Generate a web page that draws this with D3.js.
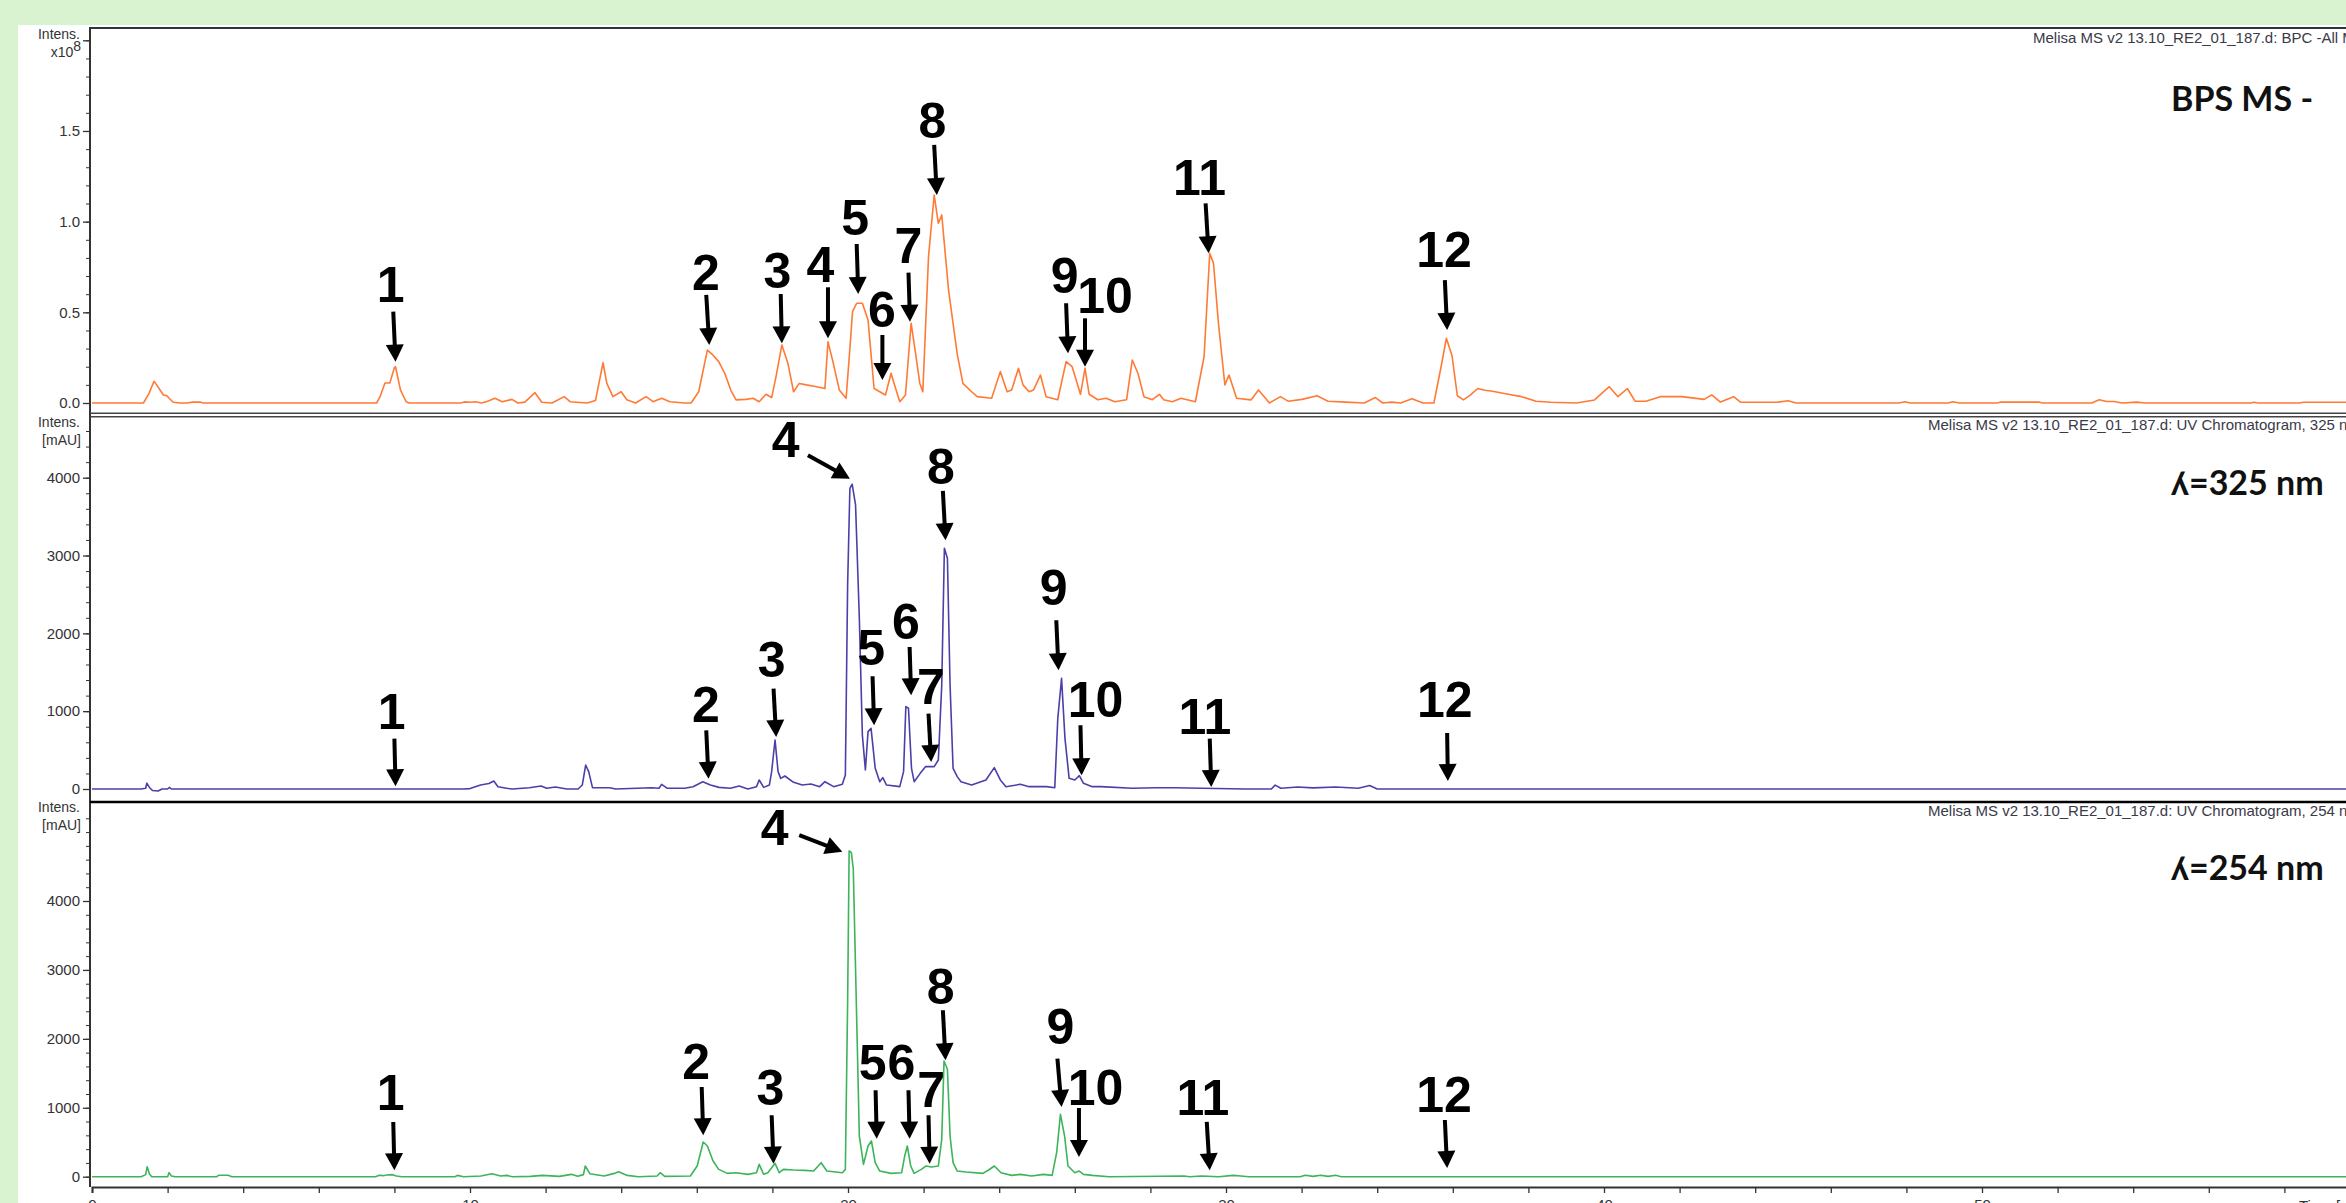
<!DOCTYPE html>
<html>
<head>
<meta charset="utf-8">
<script src="https://cdn.jsdelivr.net/npm/d3@7"></script>
<style>
  html, body { margin: 0; padding: 0; background: #d9f2d0; overflow: hidden; }
  svg { display: block; }
</style>
</head>
<body>
<svg width="2346" height="1203"></svg>
<script>
// retention time [min], intensity (BPC in 1e8 counts, UV in mAU)
const bpcTrace = [[0,0],[1.36,0],[1.51,0.053],[1.64,0.12],[1.71,0.1],[1.8,0.072],[1.89,0.044],[1.98,0.04],[2.06,0.022],[2.15,0.004],[2.33,0],[2.5,0],[2.68,0.005],[2.86,0.005],[2.94,0],
  [7.53,0],[7.62,0.035],[7.75,0.11],[7.88,0.11],[8.0,0.195],[8.03,0.2],[8.16,0.072],[8.31,0.007],[8.39,0],
  [9.75,0],[9.85,0.006],[10.0,0.004],[10.15,0.007],[10.3,0],[10.45,0.008],[10.66,0.026],[10.85,0.007],[11.11,0.02],[11.27,0],[11.45,0.005],[11.72,0.057],[11.9,0.004],[12.17,0],[12.49,0.035],[12.65,0.007],[13.1,0],[13.32,0.014],[13.52,0.222],[13.62,0.108],[13.78,0.035],[14.0,0.062],[14.15,0.018],[14.38,0],[14.66,0.035],[14.84,0.007],[15.07,0.026],[15.29,0.007],[15.67,0],[15.85,0],[16.05,0.062],[16.28,0.292],[16.4,0.27],[16.58,0.228],[16.74,0.164],[16.9,0.07],[17.04,0.017],[17.3,0.02],[17.49,0.026],[17.65,0.007],[17.83,0.048],[17.98,0.03],[18.1,0.15],[18.25,0.32],[18.41,0.219],[18.56,0.062],[18.71,0.108],[18.9,0.1],[19.17,0.09],[19.39,0.08],[19.47,0.338],[19.59,0.238],[19.77,0.072],[19.95,0.026],[20.05,0.3],[20.12,0.504],[20.23,0.55],[20.38,0.55],[20.53,0.458],[20.69,0.08],[20.84,0.062],[20.99,0.044],[21.14,0.164],[21.22,0.108],[21.37,0.007],[21.52,0.044],[21.67,0.44],[21.79,0.27],[21.9,0.108],[21.98,0.062],[22.13,0.807],[22.28,1.147],[22.39,0.991],[22.48,1.037],[22.66,0.623],[22.89,0.27],[23.04,0.108],[23.27,0.062],[23.42,0.035],[23.8,0.026],[24.03,0.173],[24.21,0.062],[24.33,0.072],[24.51,0.191],[24.63,0.1],[24.79,0.062],[24.91,0.072],[25.09,0.154],[25.24,0.035],[25.55,0.018],[25.77,0.228],[25.93,0.2],[26.15,0.048],[26.27,0.191],[26.38,0.048],[26.61,0.018],[26.83,0.026],[27.06,0.007],[27.37,0.018],[27.52,0.237],[27.67,0.164],[27.83,0.035],[28.05,0.018],[28.24,0.048],[28.35,0.018],[28.58,0.007],[28.81,0.026],[29.19,0.007],[29.42,0.255],[29.57,0.826],[29.67,0.77],[29.8,0.44],[29.97,0.1],[30.08,0.154],[30.28,0.026],[30.66,0.017],[30.86,0.072],[31.15,0],[31.44,0.035],[31.64,0.01],[32.01,0.02],[32.41,0.04],[32.7,0.01],[33.17,0.005],[33.66,0],[33.95,0.03],[34.15,0],[34.38,0.005],[34.62,0],[34.92,0.024],[35.21,0],[35.5,0],[35.69,0.2],[35.83,0.357],[35.98,0.26],[36.12,0.04],[36.28,0.017],[36.47,0.045],[36.66,0.08],[36.85,0.07],[37.05,0.065],[37.43,0.05],[37.82,0.035],[38.2,0.01],[38.6,0.004],[39.27,0],[39.75,0.017],[40.14,0.09],[40.37,0.035],[40.62,0.08],[40.82,0.01],[41.11,0.01],[41.49,0.035],[42.06,0.035],[42.65,0.02],[42.85,0.045],[43.08,0.005],[43.43,0.035],[43.62,0.004],[44.58,0.004],[44.87,0.012],[45.08,0],[47.8,0],[47.96,0.007],[48.1,0],[49.1,0],[49.23,0.007],[49.4,0],[50.4,0],[50.5,0.005],[51.5,0.005],[51.6,0],[52.9,0],[53.1,0.018],[53.3,0.008],[53.5,0.008],[53.7,0],[54.1,0.005],[54.3,0],[57.1,0],[57.2,0.004],[57.3,0],[58.4,0],[58.5,0.004],[60,0.004]];

const uv325Trace = [[0,0],[1.3,0],[1.42,10],[1.45,75],[1.52,20],[1.6,-20],[1.75,-25],[1.85,0],[2.0,0],[2.05,20],[2.1,0],[9.83,0],[10.0,5],[10.28,51],[10.5,70],[10.63,103],[10.74,30],[10.97,9],[11.12,0],[11.57,17],[11.88,39],[12.03,9],[12.26,26],[12.56,0],[12.86,0],[12.97,51],[13.06,308],[13.14,223],[13.24,17],[13.7,17],[13.85,0],[14.8,17],[15.0,10],[15.07,60],[15.22,9],[15.68,9],[15.9,30],[16.16,94],[16.36,51],[16.59,21],[16.89,9],[17.12,39],[17.35,0],[17.58,30],[17.65,116],[17.77,21],[17.92,51],[17.98,223],[18.07,630],[18.15,223],[18.22,137],[18.33,167],[18.56,86],[18.79,51],[19.02,64],[19.25,30],[19.39,94],[19.62,30],[19.85,60],[19.93,180],[19.99,2622],[20.05,3864],[20.11,3916],[20.2,3650],[20.3,2193],[20.38,694],[20.46,244],[20.53,737],[20.61,780],[20.72,266],[20.84,94],[20.92,146],[21.02,51],[21.37,30],[21.47,223],[21.53,1058],[21.6,1037],[21.68,266],[21.75,94],[21.91,201],[22.05,287],[22.28,287],[22.39,373],[22.48,1337],[22.55,3093],[22.63,2965],[22.7,1337],[22.78,266],[22.89,159],[22.99,94],[23.27,51],[23.65,116],[23.87,274],[24.03,116],[24.18,30],[24.56,60],[24.79,30],[25.25,30],[25.47,17],[25.55,908],[25.65,1422],[25.74,651],[25.85,137],[26.0,116],[26.12,171],[26.23,73],[26.46,30],[26.69,30],[27.52,9],[28.13,17],[28.66,17],[29.35,9],[30.5,0],[31.2,0],[31.3,50],[31.45,10],[31.9,25],[32.3,15],[32.9,25],[33.5,10],[33.8,45],[34.0,0],[60,0]];

const uv254Trace = [[0,0],[1.3,0],[1.42,30],[1.46,145],[1.52,40],[1.58,0],[2.0,0],[2.04,60],[2.1,10],[2.2,0],[3.3,0],[3.35,20],[3.6,20],[3.7,0],[7.5,0],[7.6,20],[7.7,15],[7.8,25],[7.95,30],[8.05,10],[8.2,0],[9.6,0],[9.67,19],[9.83,0],[10.29,10],[10.58,44],[10.81,10],[10.97,19],[11.12,0],[11.6,5],[11.92,19],[12.37,5],[12.68,34],[12.85,5],[13.0,30],[13.05,155],[13.17,44],[13.55,10],[13.82,48],[13.93,73],[14.16,19],[14.46,0],[14.95,10],[15.03,58],[15.15,5],[15.83,10],[16.01,155],[16.17,503],[16.28,445],[16.43,227],[16.58,106],[16.81,48],[17.04,58],[17.35,34],[17.58,58],[17.65,179],[17.77,34],[17.88,58],[18.07,194],[18.18,58],[18.29,106],[18.56,97],[18.86,92],[19.09,82],[19.29,203],[19.44,82],[19.85,58],[19.93,106],[19.99,2525],[20.03,4727],[20.09,4702],[20.14,4461],[20.23,2284],[20.3,590],[20.41,179],[20.53,445],[20.62,518],[20.72,203],[20.84,82],[21.14,48],[21.42,58],[21.5,300],[21.57,445],[21.66,155],[21.75,48],[21.94,106],[22.06,155],[22.21,140],[22.39,155],[22.48,542],[22.54,1679],[22.63,1558],[22.7,590],[22.78,203],[22.89,82],[23.12,68],[23.57,48],[23.72,97],[23.87,155],[24.05,58],[24.33,19],[24.56,34],[24.86,10],[25.17,34],[25.4,19],[25.52,348],[25.62,905],[25.73,590],[25.82,155],[26.0,58],[26.12,82],[26.23,34],[26.46,19],[26.91,0],[28.89,10],[29.04,0],[29.35,10],[29.81,0],[30.19,19],[30.39,10],[30.6,0],[31.96,0],[32.1,20],[32.3,5],[32.5,22],[32.7,5],[32.9,20],[33.05,0],[60,0]];

// peak labels: [label, labelT, labelV, tailT, tailV, tipT, tipV]
const bpcPeaks = [
  ['1', 7.90, 0.559, 7.97, 0.504, 8.03, 0.228],
  ['2', 16.24, 0.623, 16.25, 0.596, 16.33, 0.32],
  ['3', 18.13, 0.633, 18.22, 0.601, 18.25, 0.329],
  ['4', 19.27, 0.669, 19.47, 0.638, 19.47, 0.357],
  ['5', 20.19, 0.927, 20.23, 0.877, 20.27, 0.601],
  ['6', 20.9, 0.418, 20.91, 0.375, 20.91, 0.127],
  ['7', 21.6, 0.771, 21.6, 0.719, 21.64, 0.448],
  ['8', 22.23, 1.46, 22.28, 1.423, 22.35, 1.147],
  ['9', 25.73, 0.605, 25.77, 0.55, 25.82, 0.274],
  ['10', 26.8, 0.495, 26.27, 0.467, 26.27, 0.2],
  ['11', 29.3, 1.147, 29.46, 1.101, 29.54, 0.826],
  ['12', 35.77, 0.75, 35.79, 0.678, 35.85, 0.403]
];
const uv325Peaks = [
  ['1', 7.93, 775, 8.0, 647, 8.03, 35],
  ['2', 16.24, 861, 16.25, 754, 16.31, 132],
  ['3', 17.98, 1440, 18.03, 1289, 18.1, 668],
  ['4', 18.35, 4267, 18.94, 4289, 20.05, 3988],
  ['5', 20.61, 1590, 20.65, 1449, 20.69, 819],
  ['6', 21.53, 1932, 21.63, 1825, 21.67, 1204],
  ['7', 22.19, 1096, 22.13, 968, 22.2, 347],
  ['8', 22.46, 3924, 22.51, 3830, 22.58, 3197],
  ['9', 25.44, 2361, 25.51, 2168, 25.57, 1526],
  ['10', 26.55, 925, 26.15, 819, 26.18, 176],
  ['11', 29.44, 711, 29.57, 647, 29.61, 26],
  ['12', 35.79, 925, 35.85, 720, 35.87, 103]
];
const uv254Peaks = [
  ['1', 7.90, 964, 7.97, 794, 8.0, 93],
  ['2', 15.98, 1422, 16.13, 1302, 16.17, 601],
  ['3', 17.95, 1036, 17.98, 891, 18.03, 189],
  ['4', 18.06, 4810, 18.71, 4955, 19.85, 4713],
  ['5', 20.65, 1399, 20.73, 1254, 20.76, 552],
  ['6', 21.41, 1399, 21.6, 1254, 21.63, 552],
  ['7', 22.2, 1012, 22.13, 891, 22.16, 189],
  ['8', 22.45, 2511, 22.51, 2415, 22.58, 1689],
  ['9', 25.62, 1930, 25.54, 1713, 25.65, 1012],
  ['10', 26.55, 1036, 26.11, 997, 26.11, 286],
  ['11', 29.39, 891, 29.49, 794, 29.57, 93],
  ['12', 35.77, 939, 35.79, 823, 35.85, 126]
];

const timeTicks = [0, 10, 20, 30, 40, 50];
const bpcTicks = [0, 0.5, 1.0, 1.5];
const uvTicks = [0, 1000, 2000, 3000, 4000];
const headers = [
  'Melisa MS v2 13.10_RE2_01_187.d: BPC -All MS',
  'Melisa MS v2 13.10_RE2_01_187.d: UV Chromatogram, 325 nm',
  'Melisa MS v2 13.10_RE2_01_187.d: UV Chromatogram, 254 nm'
];
const titles = ['BPS MS -', '\u028E=325 nm', '\u028E=254 nm'];

const W = 2346, H = 1203;
const left = 90, axisY = 1187;
const sans = '"Liberation Sans", Arial, sans-serif';

const svg = d3.select('svg');

// white sheet
svg.append('rect').attr('x', 18).attr('y', 25).attr('width', W).attr('height', H).attr('fill', '#fff');

const x = d3.scaleLinear().domain([0, 60]).range([92, 92 + 37.8 * 60]);

const panels = [
  { trace: bpcTrace, peaks: bpcPeaks, color: '#ff7a35',
    y: d3.scaleLinear().domain([0, 2]).range([403, 40.3]),
    major: bpcTicks.concat([2.0]), minor: d3.range(0, 2.001, 0.1), fmt: d => d === 2 ? '' : d3.format('.1f')(d),
    unit: ['Intens.', 'x10'], unitY: [39, 57], headerX: 2033, headerY: 43, titleY: 111 },
  { trace: uv325Trace, peaks: uv325Peaks, color: '#4a40a8',
    y: d3.scaleLinear().domain([0, 4000]).range([789, 477.7]),
    major: uvTicks, minor: d3.range(0, 4601, 200), fmt: d3.format('d'),
    unit: ['Intens.', '[mAU]'], unitY: [427, 445], headerX: 1928, headerY: 430, titleY: 495 },
  { trace: uv254Trace, peaks: uv254Peaks, color: '#3cb45a',
    y: d3.scaleLinear().domain([0, 4000]).range([1176.7, 901]),
    major: uvTicks, minor: d3.range(0, 5201, 200), fmt: d3.format('d'),
    unit: ['Intens.', '[mAU]'], unitY: [812, 830], headerX: 1928, headerY: 816, titleY: 880 }
];

panels.forEach((p, i) => {
  const g = svg.append('g');

  // y axes: minor then major
  g.append('g')
    .attr('transform', 'translate(' + left + ',0)')
    .call(d3.axisLeft(p.y).tickValues(p.minor).tickSize(4).tickFormat(''))
    .call(a => a.select('.domain').remove())
    .selectAll('line').attr('stroke', '#333');

  const ax = g.append('g')
    .attr('transform', 'translate(' + left + ',0)')
    .call(d3.axisLeft(p.y).tickValues(p.major).tickSize(7).tickPadding(3).tickFormat(p.fmt))
    .call(a => a.select('.domain').remove());
  ax.selectAll('line').attr('stroke', '#333').attr('stroke-width', 1.3);
  ax.selectAll('text')
    .attr('font-family', sans).attr('font-size', 15).attr('fill', '#333');

  // unit label
  g.append('text').attr('x', 80).attr('y', p.unitY[0])
    .attr('text-anchor', 'end').attr('font-family', sans).attr('font-size', 14).attr('fill', '#333')
    .text(p.unit[0]);
  const u = g.append('text').attr('x', 81).attr('y', p.unitY[1])
    .attr('text-anchor', 'end').attr('font-family', sans).attr('font-size', 14).attr('fill', '#333');
  u.append('tspan').text(p.unit[1]);
  if (i === 0) u.append('tspan').attr('dy', -6).text('8');

  // header
  g.append('text').attr('x', p.headerX).attr('y', p.headerY)
    .attr('font-family', sans).attr('font-size', 15).attr('fill', '#3a3a48')
    .text(headers[i]);

  // title
  g.append('text').attr('x', 2171).attr('y', p.titleY)
    .attr('font-family', 'Lato, "Open Sans", sans-serif').attr('font-weight', 'bold')
    .attr('font-size', 34).attr('fill', '#111')
    .text(titles[i]);

  // trace
  const line = d3.line().x(d => x(d[0])).y(d => p.y(d[1]));
  g.append('path').datum(p.trace)
    .attr('d', line)
    .attr('fill', 'none').attr('stroke', p.color).attr('stroke-width', 1.6)
    .attr('stroke-linejoin', 'round');

  // arrows and numbers
  const marks = g.selectAll('.mark').data(p.peaks).enter().append('g').attr('class', 'mark');
  marks.each(function(d) {
    const m = d3.select(this);
    const tx = x(d[3]), ty = p.y(d[4]);
    const hx = x(d[5]), hy = p.y(d[6]);
    const len = Math.hypot(hx - tx, hy - ty);
    const ux = (hx - tx) / len, uy = (hy - ty) / len;
    const headLen = 17, headW = 9;
    const bx = hx - ux * headLen, by = hy - uy * headLen;
    m.append('line')
      .attr('x1', tx).attr('y1', ty).attr('x2', bx + ux * 2).attr('y2', by + uy * 2)
      .attr('stroke', '#000').attr('stroke-width', 4);
    m.append('path')
      .attr('d', 'M' + hx + ',' + hy +
        'L' + (bx - uy * headW) + ',' + (by + ux * headW) +
        'L' + (bx + uy * headW) + ',' + (by - ux * headW) + 'Z')
      .attr('fill', '#000');
    m.append('text')
      .attr('x', x(d[1])).attr('y', p.y(d[2]))
      .attr('text-anchor', 'middle')
      .attr('font-family', sans).attr('font-weight', 'bold').attr('font-size', 50)
      .attr('fill', '#000')
      .text(d[0]);
  });
});

// frame and panel separators
svg.append('line').attr('x1', left).attr('x2', W).attr('y1', 28).attr('y2', 28).attr('stroke', '#333').attr('stroke-width', 2);
svg.append('line').attr('x1', left).attr('x2', left).attr('y1', 27).attr('y2', axisY).attr('stroke', '#333').attr('stroke-width', 2);
svg.append('line').attr('x1', left).attr('x2', W).attr('y1', 413.3).attr('y2', 413.3).attr('stroke', '#444').attr('stroke-width', 1.5);
svg.append('line').attr('x1', left).attr('x2', W).attr('y1', 416.8).attr('y2', 416.8).attr('stroke', '#444').attr('stroke-width', 1.5);
svg.append('line').attr('x1', left).attr('x2', W).attr('y1', 802).attr('y2', 802).attr('stroke', '#000').attr('stroke-width', 2.6);

// time axis
const xa = svg.append('g')
  .attr('transform', 'translate(0,' + axisY + ')')
  .call(d3.axisBottom(x).tickValues(d3.range(0, 61, 2)).tickSize(6).tickPadding(6)
    .tickFormat(d => timeTicks.includes(d) ? d : ''));
xa.select('.domain').attr('stroke', '#333').attr('stroke-width', 2);
xa.selectAll('line').attr('stroke', '#333').attr('stroke-width', 1.3);
xa.selectAll('text').attr('font-family', sans).attr('font-size', 15).attr('fill', '#333');
svg.append('text').attr('x', 2299).attr('y', 1211)
  .attr('font-family', sans).attr('font-size', 15).attr('fill', '#333')
  .text('Time [min]');
</script>
</body>
</html>
